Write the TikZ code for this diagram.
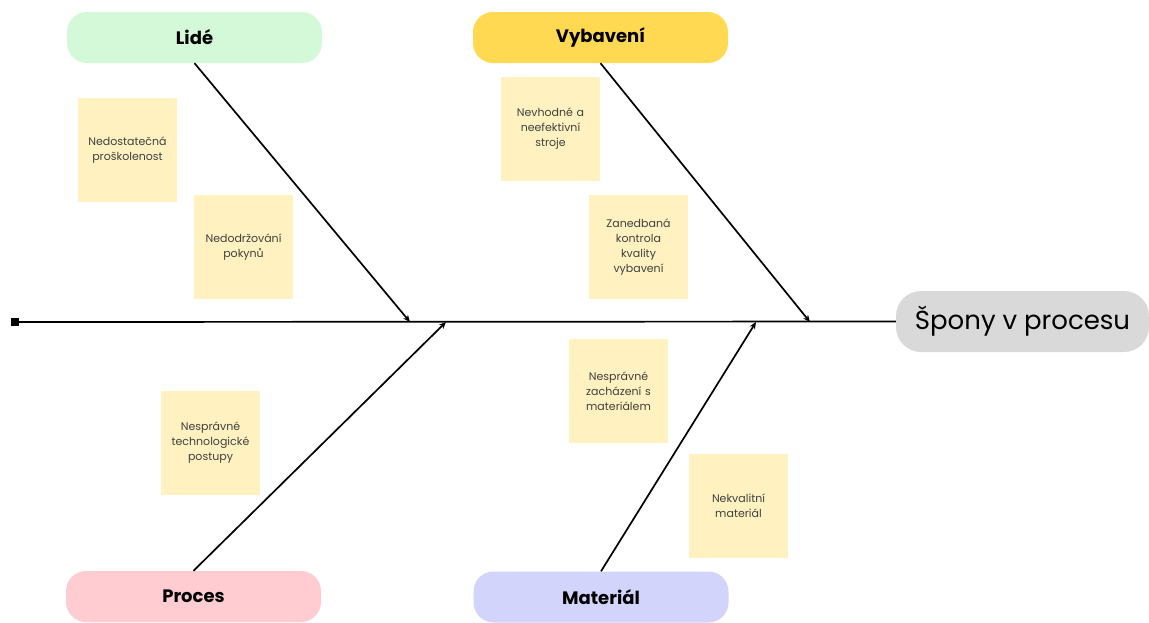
\documentclass[tikz,border=0pt]{standalone}
\usepackage{fontspec}
\setmainfont{Poppins}
\usetikzlibrary{arrows.meta}
\definecolor{lideC}{HTML}{D3F9D8}
\definecolor{vybC}{HTML}{FFD952}
\definecolor{procC}{HTML}{FFCCD2}
\definecolor{matC}{HTML}{D3D4FC}
\definecolor{effC}{HTML}{D9D9D9}
\definecolor{noteC}{HTML}{FFF2C0}
\definecolor{noteT}{HTML}{404040}
\tikzset{
  cat/.style={rounded corners=20pt, minimum width=255pt, minimum height=51pt,
    inner sep=0pt, font=\fontsize{18}{21}\selectfont\bfseries, text=black},
  note/.style={fill=noteC, minimum width=99pt, minimum height=104pt, inner sep=2pt,
    align=center, text width=95pt, text=noteT, font=\fontsize{11}{15}\selectfont},
  bone/.style={line width=1.7pt, -{Stealth[length=7pt,width=6pt]}},
}
\begin{document}
\begin{tikzpicture}[x=1pt,y=-1pt]
\useasboundingbox (0,0) rectangle (1149,622);
% effect head
\node[fill=effC, rounded corners=25pt, minimum width=253pt, minimum height=61pt,
  inner sep=0pt, font=\fontsize{26}{30}\selectfont] (eff) at (1022.5,321.5) {Špony v procesu};
% category heads
\node[cat, fill=lideC] (lide) at (194.5,37.5) {Lidé};
\node[cat, fill=vybC] (vyb) at (600.5,37.5) {Vybavení};
\node[cat, fill=procC] (proc) at (193.5,596.5) {Proces};
\node[cat, fill=matC] (mat) at (601,597) {Materiál};
% spine
\coordinate (tail) at (15,322);
\fill (tail) ++(-4,-4) rectangle ++(8,8);
\draw[line width=1.7pt] (tail) -- (eff.west);
\coordinate (jl) at (410,322);
\coordinate (jp) at (446,322);
\coordinate (jm) at (756,322);
\coordinate (jv) at (810,322);
% bones
\draw[bone] (lide.south) -- (jl);
\draw[bone] (vyb.south) -- (jv);
\draw[bone] (proc.north) -- (jp);
\draw[bone] (mat.north) -- (jm);
% notes
\node[note] (n1) at (127.5,150) {Nedostatečná\\proškolenost};
\node[note] (n2) at (243.5,247) {Nedodržování\\pokynů};
\node[note] (n3) at (550.5,129) {Nevhodné a\\neefektivní\\stroje};
\node[note] (n4) at (638.5,247) {Zanedbaná\\kontrola\\kvality\\vybavení};
\node[note] (n5) at (210.5,443) {Nesprávné\\technologické\\postupy};
\node[note] (n6) at (618.5,391) {Nesprávné\\zacházení s\\materiálem};
\node[note] (n7) at (738.5,506) {Nekvalitní\\materiál};
\end{tikzpicture}
\end{document}
